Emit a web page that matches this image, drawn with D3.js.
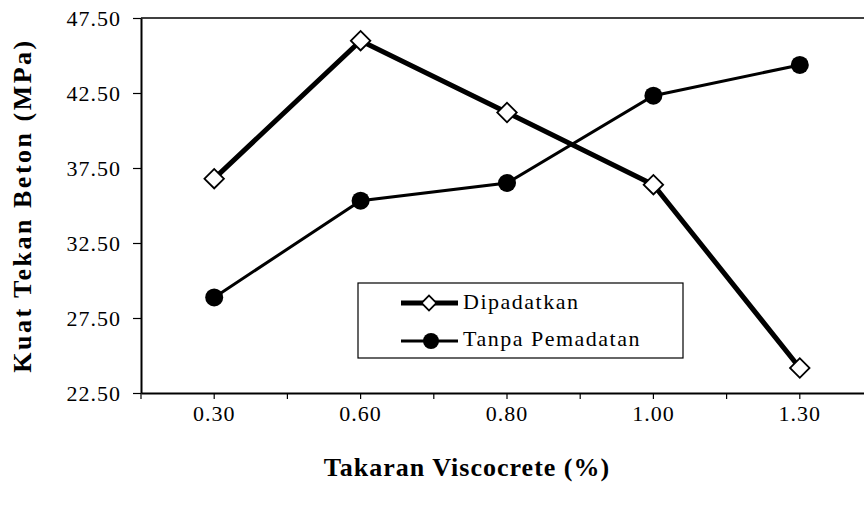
<!DOCTYPE html>
<html>
<head>
<meta charset="utf-8">
<script src="https://cdn.jsdelivr.net/npm/d3@7"></script>
<style>
  body { margin: 0; background: #fff; }
  text { font-family: "Liberation Serif", "Times New Roman", serif; fill: #000; }
</style>
</head>
<body>
<div id="chart-area"></div>
<script>
// data
var categories = ["0.30", "0.60", "0.80", "1.00", "1.30"];
var dipadatkan = [36.79, 45.99, 41.20, 36.39, 24.17];
var tanpaPemadatan = [28.87, 35.32, 36.50, 42.32, 44.37];
var yTicks = [22.5, 27.5, 32.5, 37.5, 42.5, 47.5];

var margin = { left: 141, right: -9, top: 18, bottom: 114 };
var width = 864 - margin.left - margin.right,
    height = 507 - margin.top - margin.bottom;

var svg = d3.select("#chart-area")
    .append("svg")
    .attr("width", 864)
    .attr("height", 507);

var g = svg.append("g")
    .attr("transform", "translate(" + margin.left + "," + margin.top + ")");

var x = d3.scaleBand()
    .domain(categories)
    .range([0, width])
    .padding(0);

var y = d3.scaleLinear()
    .domain([22.5, 47.5])
    .range([height, 0]);

function cx(d) { return x(d) + x.bandwidth() / 2; }

// top border of plot area
g.append("line")
    .attr("x1", 0).attr("x2", width)
    .attr("y1", 0).attr("y2", 0)
    .attr("stroke", "#000")
    .attr("stroke-width", 1.5);

// y axis
var yAxis = g.append("g")
    .attr("class", "y-axis")
    .call(d3.axisLeft(y).tickValues(yTicks).tickSize(8).tickSizeOuter(0)
        .tickFormat(d3.format(".2f")));
yAxis.select(".domain").attr("stroke-width", 2);
yAxis.selectAll(".tick line").attr("stroke-width", 1.2);
yAxis.selectAll("text")
    .attr("x", -20)
    .attr("font-size", "22px")
    .attr("letter-spacing", "1px")
    .attr("font-family", "Liberation Serif");

// x axis, ticks on category centres and between categories
var xAxis = g.append("g")
    .attr("class", "x-axis")
    .attr("transform", "translate(0," + height + ")")
    .call(d3.axisBottom(x).tickSize(6).tickSizeOuter(0));
xAxis.select(".domain").attr("stroke-width", 2);
xAxis.selectAll(".tick line").attr("stroke-width", 1.2);
xAxis.selectAll("text")
    .attr("y", 12)
    .attr("font-size", "22px")
    .attr("letter-spacing", "1px")
    .attr("font-family", "Liberation Serif");

xAxis.selectAll(".between")
    .data(categories)
    .enter()
    .append("line")
    .attr("class", "between")
    .attr("x1", function(d) { return x(d); })
    .attr("x2", function(d) { return x(d); })
    .attr("y1", 0)
    .attr("y2", 6)
    .attr("stroke", "#000")
    .attr("stroke-width", 1.2);

// lines
var line = d3.line()
    .x(function(d, i) { return cx(categories[i]); })
    .y(function(d) { return y(d); });

g.append("path")
    .datum(tanpaPemadatan)
    .attr("d", line)
    .attr("fill", "none")
    .attr("stroke", "#000")
    .attr("stroke-width", 3);

g.append("path")
    .datum(dipadatkan)
    .attr("d", line)
    .attr("fill", "none")
    .attr("stroke", "#000")
    .attr("stroke-width", 5);

var diamond = d3.symbol().type(d3.symbolSquare).size(190);

g.selectAll(".dot")
    .data(tanpaPemadatan)
    .enter()
    .append("circle")
    .attr("class", "dot")
    .attr("cx", function(d, i) { return cx(categories[i]); })
    .attr("cy", function(d) { return y(d); })
    .attr("r", 9)
    .attr("fill", "#000");

g.selectAll(".diamond")
    .data(dipadatkan)
    .enter()
    .append("path")
    .attr("class", "diamond")
    .attr("d", diamond)
    .attr("transform", function(d, i) {
        return "translate(" + cx(categories[i]) + "," + y(d) + ") rotate(45)";
    })
    .attr("fill", "#fff")
    .attr("stroke", "#000")
    .attr("stroke-width", 1.8);

// legend
var legend = svg.append("g")
    .attr("transform", "translate(358,283)");

legend.append("rect")
    .attr("x", 0).attr("y", 0)
    .attr("width", 325).attr("height", 75)
    .attr("fill", "#fff")
    .attr("stroke", "#000")
    .attr("stroke-width", 1.2);

legend.append("line")
    .attr("x1", 43).attr("x2", 100)
    .attr("y1", 20).attr("y2", 20)
    .attr("stroke", "#000").attr("stroke-width", 5);
legend.append("path")
    .attr("d", d3.symbol().type(d3.symbolSquare).size(110))
    .attr("transform", "translate(71,20) rotate(45)")
    .attr("fill", "#fff")
    .attr("stroke", "#000")
    .attr("stroke-width", 1.8);
legend.append("text")
    .attr("x", 105).attr("y", 26)
    .attr("font-size", "22px")
    .attr("letter-spacing", "1.5px")
    .text("Dipadatkan");

legend.append("line")
    .attr("x1", 43).attr("x2", 100)
    .attr("y1", 58).attr("y2", 58)
    .attr("stroke", "#000").attr("stroke-width", 3);
legend.append("circle")
    .attr("cx", 73).attr("cy", 58)
    .attr("r", 8)
    .attr("fill", "#000");
legend.append("text")
    .attr("x", 105).attr("y", 63)
    .attr("font-size", "22px")
    .attr("letter-spacing", "1.5px")
    .text("Tanpa Pemadatan");

// axis titles
svg.append("text")
    .attr("x", 467)
    .attr("y", 476)
    .attr("font-size", "26px")
    .attr("font-weight", "bold")
    .attr("letter-spacing", "1px")
    .attr("text-anchor", "middle")
    .text("Takaran Viscocrete (%)");

svg.append("text")
    .attr("transform", "translate(31," + (margin.top + height / 2) + ") rotate(-90)")
    .attr("font-size", "26px")
    .attr("font-weight", "bold")
    .attr("letter-spacing", "2.5px")
    .attr("text-anchor", "middle")
    .text("Kuat Tekan Beton (MPa)");
</script>
</body>
</html>
